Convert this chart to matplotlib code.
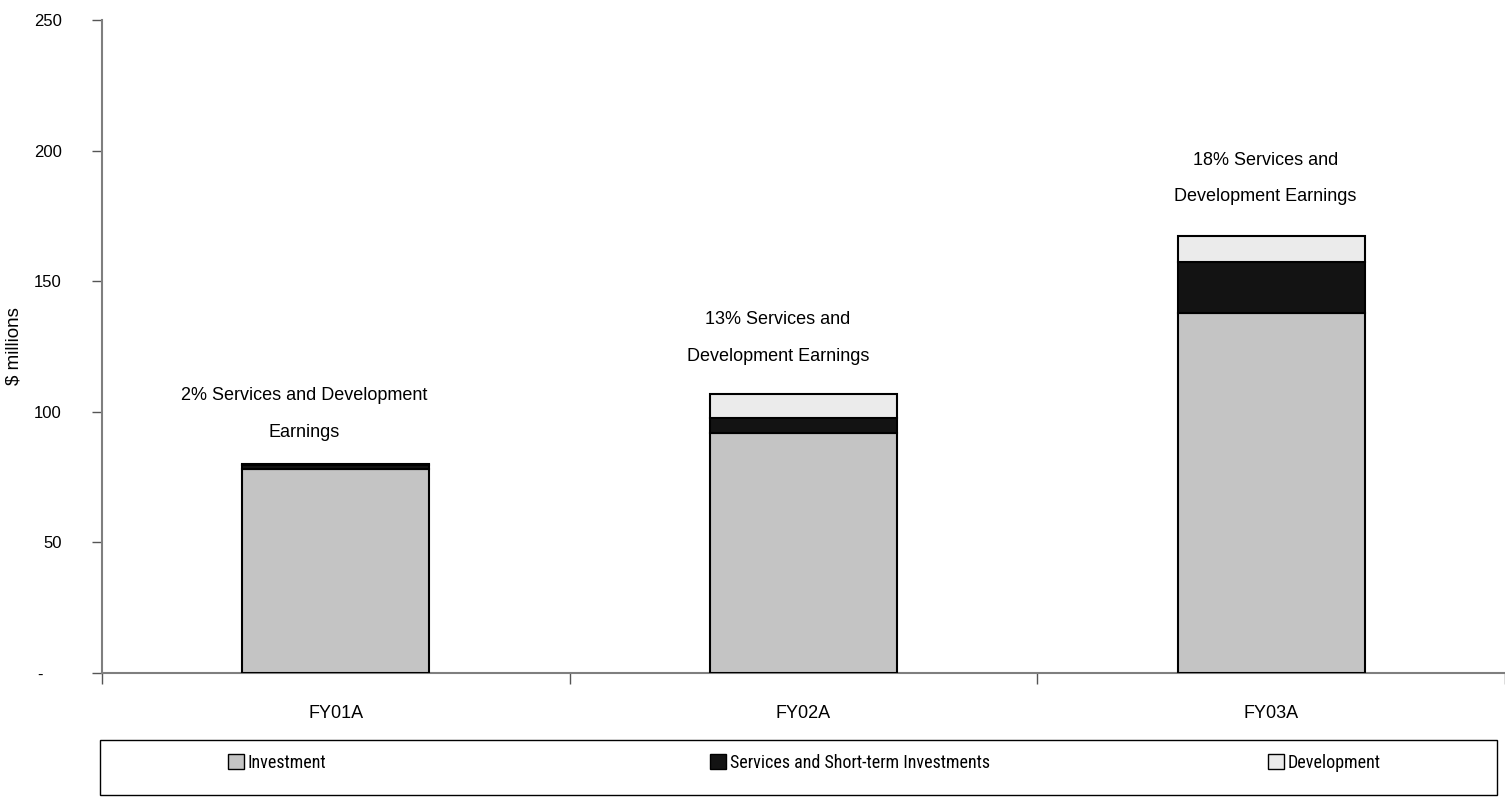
import matplotlib
matplotlib.use('Agg')
import matplotlib.pyplot as plt
from matplotlib.patches import Rectangle, Patch

plt.rcParams['font.family'] = ['Liberation Sans', 'DejaVu Sans']

# 数据
years = ['FY01A', 'FY02A', 'FY03A']
investment = [78.0, 92.0, 138.0]
services = [1.6, 5.5, 19.3]
development = [0.3, 9.3, 10.1]
notes = ['2% Services and Development\nEarnings',
         '13% Services and\nDevelopment Earnings',
         '18% Services and\nDevelopment Earnings']
yticks = [0, 50, 100, 150, 200, 250]
ytick_labels = ['-    ', '50', '100', '150', '200', '250']
legend_labels = ['Investment', 'Services and Short-term Investments', 'Development']

c_inv = '#c4c4c4'
c_srv = '#131313'
c_dev = '#ebebeb'

fig = plt.figure(figsize=(15.05, 8.11), dpi=100)
ax = fig.add_axes([102 / 1505, 1 - 673 / 811, 1403 / 1505, 653 / 811])

x = list(range(len(years)))
w = 0.4
ax.bar(x, investment, w, color=c_inv, edgecolor='black', linewidth=1.5, zorder=3)
ax.bar(x, services, w, bottom=investment, color=c_srv, edgecolor='black', linewidth=1.5, zorder=3)
bot2 = [a + b for a, b in zip(investment, services)]
ax.bar(x, development, w, bottom=bot2, color=c_dev, edgecolor='black', linewidth=1.5, zorder=3)

# 文字框位置（相对柱顶的偏移）
note_dx = [-0.068, -0.055, -0.012]
note_dy = [17, 21, 22]
tops = [a + b for a, b in zip(bot2, development)]
for i, t in enumerate(tops):
    ax.annotate(notes[i], xy=(i + note_dx[i], t), xytext=(0, note_dy[i]), textcoords='offset points',
                ha='center', va='bottom', multialignment='center', fontsize=13, linespacing=2.5)

ax.set_xlim(-0.5, 2.5)
ax.set_ylim(0, 250)
ax.set_yticks(yticks)
ax.set_yticklabels(ytick_labels)
ax.set_xticks(x)
ax.set_xticklabels(years)
ax.set_xticks([-0.5, 0.5, 1.5, 2.5], minor=True)
ax.tick_params(axis='x', which='major', length=0, pad=23, labelsize=13)
ax.tick_params(axis='x', which='minor', length=8, width=1, color='#555555')
ax.tick_params(axis='y', length=7, width=1, color='#555555', pad=22, labelsize=12)

for s in ['top', 'right']:
    ax.spines[s].set_visible(False)
for s in ['left', 'bottom']:
    ax.spines[s].set_color('#7f7f7f')
    ax.spines[s].set_linewidth(1.5)

ax.set_ylabel('\\$ millions', fontsize=13.5)
ax.yaxis.set_label_coords(-0.057, 0.5)

# 图例（三项分别定位）
colors = [c_inv, c_srv, c_dev]
legend_x = [228, 710, 1268]
for col, lab, lx in zip(colors, legend_labels, legend_x):
    h = Patch(facecolor=col, edgecolor='black', linewidth=1)
    fig.legend([h], [lab], loc='center left', frameon=False,
               bbox_to_anchor=(lx / 1505, 1 - 763 / 811),
               prop={'family': ['Roboto Condensed', 'Liberation Sans Narrow', 'Liberation Sans'],
                     'size': 13},
               handlelength=0.9, handleheight=0.9, handletextpad=0.2, borderpad=0, borderaxespad=0)
fig.patches.append(Rectangle((100 / 1505, 1 - 795 / 811), 1397 / 1505, 55 / 811,
                             transform=fig.transFigure, fill=False, edgecolor='black', linewidth=1))

fig.savefig('out.png', dpi=100)
